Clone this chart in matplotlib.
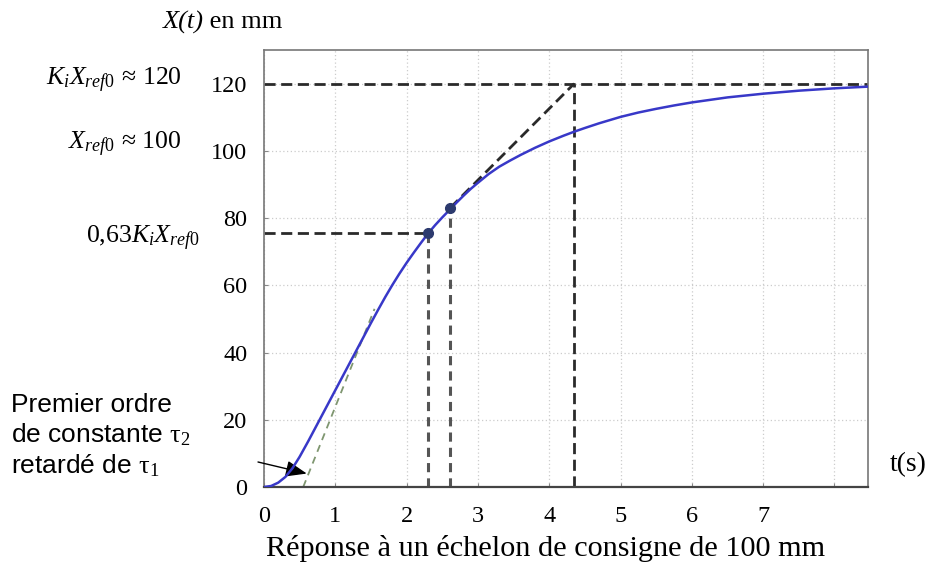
import matplotlib
matplotlib.use("Agg")
import matplotlib.pyplot as plt
from matplotlib.transforms import blended_transform_factory

plt.rcParams['mathtext.fontset'] = 'custom'
plt.rcParams['mathtext.rm'] = 'Liberation Serif'
plt.rcParams['mathtext.it'] = 'Liberation Serif:italic'
plt.rcParams['mathtext.bf'] = 'Liberation Serif:bold'

# ---- data ----
t_vals = [0, 0.1, 0.2, 0.3, 0.4, 0.5, 0.62, 0.76, 0.88, 1.0, 1.13, 1.27, 1.4, 1.5,
          1.6, 1.7, 1.8, 1.9, 2.0, 2.1, 2.2, 2.3, 2.4, 2.5, 2.61, 2.7, 2.8, 2.9,
          3.0, 3.15, 3.3, 3.45, 3.6, 3.8, 4.0, 4.2, 4.35, 4.5, 4.7, 5.0, 5.25,
          5.5, 5.75, 6.0, 6.5, 7.0, 7.5, 8.0, 8.47]
x_vals = [0, 0.3, 1.3, 3.0, 5.6, 9.0, 13.6, 19.2, 24.0, 28.8, 34.0, 39.6, 44.8,
          48.8, 52.7, 56.5, 60.1, 63.5, 66.7, 69.7, 72.6, 75.4, 77.9, 80.2, 82.6,
          84.6, 86.7, 88.7, 90.5, 93.1, 95.3, 97.1, 98.8, 100.9, 102.8, 104.5,
          105.7, 106.8, 108.2, 110.1, 111.4, 112.5, 113.5, 114.4, 115.9, 117.0,
          117.9, 118.6, 119.1]

dot_t = [2.30, 2.61]
dot_x = [75.6, 83.0]

final_value = 120
t_final = 4.35            # where the upper tangent meets 120
tangent1_t = [0.55, 1.55]  # inflection tangent
tangent1_x = [0, 53]

x_ticks = [0, 1, 2, 3, 4, 5, 6, 7, 8]
x_tick_labels = ['0', '1', '2', '3', '4', '5', '6', '7', '']
y_ticks = [0, 20, 40, 60, 80, 100, 120]
y_tick_labels = ['0', '20', '40', '60', '80', '100', '120']

fig = plt.figure(figsize=(9.28, 5.62), dpi=100)
ax = fig.add_axes([264/928, 75/562, 604/928, 437/562])
ax.set_xlim(0, 8.47)
ax.set_ylim(0, 130)

serif = 'Liberation Serif'

ax.grid(True, linestyle=(0, (1, 2)), color='#cccccc', linewidth=0.9)
ax.set_xticks(x_ticks)
ax.set_xticklabels(x_tick_labels, fontfamily=serif, fontsize=17.5)
ax.set_yticks(y_ticks)
ax.set_yticklabels(y_tick_labels, fontfamily=serif, fontsize=17.5)
ax.tick_params(axis='x', direction='in', length=3, pad=14, color='#888888')
ax.tick_params(axis='y', direction='in', length=3, pad=12, color='#888888')
for s in ax.spines.values():
    s.set_color('#777777')
    s.set_linewidth(1.2)
ax.spines['bottom'].set_color('#444444')
ax.spines['bottom'].set_linewidth(1.6)

dash_kw = dict(color='#2a2a2a', linewidth=2.0, linestyle=(0, (4, 2)))

# horizontal line at final value
ax.plot([0, 8.47], [final_value, final_value], **dash_kw)
# vertical line at t_final
ax.plot([t_final, t_final], [0, final_value], **dash_kw)
# 63% construction
ax.plot([0, dot_t[0]], [dot_x[0], dot_x[0]], **dash_kw)
ax.plot([dot_t[0], dot_t[0]], [0, dot_x[0]], color='#555555', linewidth=2.2,
        linestyle=(0, (3, 2)))
ax.plot([dot_t[1], dot_t[1]], [0, dot_x[1]], color='#555555', linewidth=2.2,
        linestyle=(0, (3, 2)))
# upper tangent
ax.plot([dot_t[1], t_final], [dot_x[1], final_value], **dash_kw)
# inflection tangent
ax.plot(tangent1_t, tangent1_x, color='#7f9670', linewidth=1.3,
        linestyle=(0, (4, 3)))

# response curve
ax.plot(t_vals, x_vals, color='#3838c8', linewidth=1.8, zorder=5)
ax.plot(dot_t, dot_x, linestyle='none', marker='o', markersize=7,
        color='#2c3a6e', zorder=6)

# arrow
ax.annotate('', xy=(0.6, 4.0), xytext=(258/928, 1 - 462/562),
            textcoords='figure fraction', xycoords='data',
            arrowprops=dict(arrowstyle='-|>,head_length=1.3,head_width=0.5',
                            color='black', lw=1.0, shrinkA=0, shrinkB=0),
            annotation_clip=False)

# texts
tr = blended_transform_factory(fig.transFigure, ax.transData)
ax.text(182/928, 121, r'$\mathit{K_iX_{ref0}\,\approx\, 120}$', transform=tr,
        ha='right', va='center', fontsize=18.5)
ax.text(182/928, 102, r'$\mathit{X_{ref0}\,\approx\, 100}$', transform=tr,
        ha='right', va='center', fontsize=18.5)
ax.text(200/928, 74, r'$\mathit{0{,}63K_iX_{ref0}}$', transform=tr,
        ha='right', va='center', fontsize=18.5)

fig.text(163/928, 1 - 22/562, 'X(t)', fontfamily=serif, fontstyle='italic',
         fontsize=19, ha='left', va='center')
fig.text(203/928, 1 - 22/562, ' en mm', fontfamily=serif,
         fontsize=19, ha='left', va='center')
fig.text(890/928, 1 - 465/562, 't(s)', fontfamily=serif, fontsize=20,
         ha='left', va='center')
fig.text(266/928, 1 - 548/562, 'Réponse à un échelon de consigne de 100 mm',
         fontfamily=serif, fontsize=21.8, ha='left', va='center')
fig.text(11/928, 1 - 436/562,
         'Premier ordre\nde constante $\\mathrm{\\tau}_2$\nretardé de $\\mathrm{\\tau}_1$',
         fontfamily='Liberation Sans', fontsize=19, ha='left', va='center',
         linespacing=1.2)

fig.savefig('out.png', dpi=100)
